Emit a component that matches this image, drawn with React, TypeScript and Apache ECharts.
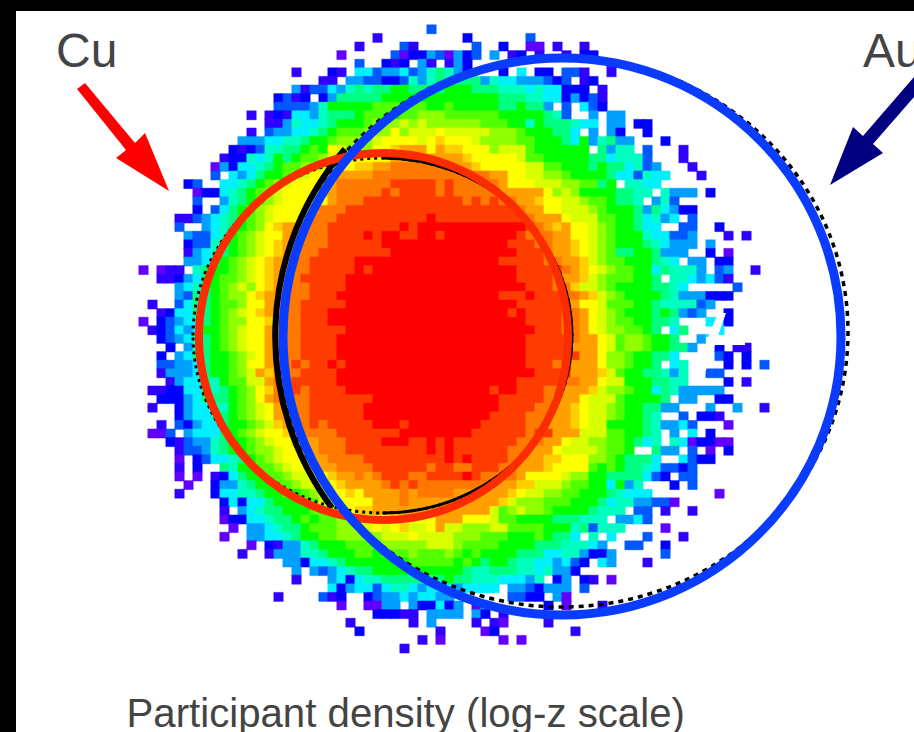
import React, { useEffect, useRef } from "react";
import * as echarts from "echarts";

const COLUMN_COUNT = 70;
const levelKeys = ".123456789abcdefghi";
const levelColors = ["#6000ff","#3000ff","#0000ff","#0058ff","#00a0ff","#00f0ff","#00ffc0","#00ff80","#00ff00","#50ff00","#90ff00","#d8ff00","#ffff00","#ffd000","#ffa000","#ff7800","#ff3c00","#ff0000"];

// each row: "startColumn:level" runs
const rowRuns = [
"32:4 33:.",
"26:2 27:. 36:3 37:. 43:4 44:.",
"24:2 25:. 29:4 30:2 31:. 37:4 38:. 40:3 41:. 43:1 45:. 46:2 47:. 49:2 50:.",
"22:1 23:. 28:4 29:1 30:3 32:5 33:4 34:1 35:5 36:3 37:4 38:. 39:5 40:. 41:2 42:3 43:. 44:2 45:. 47:2 48:. 49:3 51:.",
"24:4 25:. 27:3 28:2 29:3 30:. 31:5 32:2 33:. 34:2 35:5 36:3 37:. 52:1 53:.",
"17:2 18:. 21:3 22:2 23:. 24:6 26:4 27:5 29:6 30:4 31:5 32:7 33:8 34:7 35:5 36:3 37:. 40:3 41:. 42:6 43:. 44:3 46:. 47:4 49:2 50:. 52:2 53:.",
"20:2 22:. 23:5 25:4 27:3 29:4 30:7 31:5 32:7 33:8 34:7 35:8 38:5 39:7 40:6 42:5 45:4 46:3 47:4 48:. 49:2 50:3 51:.",
"17:5 18:2 19:4 21:6 22:5 23:7 24:8 25:7 26:8 28:9 30:8 34:9 37:8 40:7 43:6 44:7 45:6 47:3 50:. 51:2 52:.",
"15:3 16:4 17:2 18:3 19:. 20:3 21:5 22:8 27:9 40:8 43:7 45:6 47:3 48:5 49:3 50:4 51:2 52:.",
"15:4 19:5 20:7 21:9 26:a 29:9 30:a 32:9 34:a 35:9 40:8 42:9 43:8 45:5 46:. 47:4 48:. 49:6 50:4 51:3 52:.",
"12:2 13:. 14:2 15:3 16:2 17:6 19:5 20:7 21:8 24:9 25:a 28:9 29:a 31:b 34:a 40:9 45:8 46:7 47:4 48:. 50:5 51:. 52:5 54:.",
"14:2 16:5 17:7 18:6 20:7 21:8 22:9 25:a 26:b 29:c 30:b 31:c 32:b 38:a 41:9 43:7 44:9 45:8 48:7 49:6 51:. 52:5 54:. 55:3 57:.",
"12:2 13:. 14:4 15:5 17:6 19:7 20:8 21:9 22:a 25:b 28:d 29:b 30:c 33:d 34:c 39:b 42:a 43:9 46:8 48:6 49:. 50:5 51:. 52:5 53:3 54:. 56:3 57:.",
"11:5 14:6 16:7 18:8 19:9 21:a 22:b 26:c 27:d 31:c 32:d 33:e 34:d 37:c 38:b 42:a 44:9 47:8 48:6 49:9 50:5 51:7 52:8 53:5 55:. 58:3 59:.",
"10:3 11:2 12:3 13:4 14:7 16:8 18:9 19:a 20:9 21:d 22:c 23:b 26:d 28:e 29:f 32:d 33:f 34:e 36:d 39:b 40:c 43:a 44:9 50:. 51:8 52:5 53:7 55:. 56:4 57:. 60:2 61:.",
"9:2 10:3 12:7 13:6 14:7 15:9 16:8 17:9 18:a 20:b 21:c 24:d 28:f 36:e 37:d 42:c 43:a 45:9 50:8 52:6 53:7 56:4 57:. 60:2 61:.",
"8:1 9:5 10:3 11:6 13:7 14:8 15:9 16:a 18:b 20:c 22:d 24:e 26:f 28:g 35:f 37:e 38:d 43:c 45:a 47:9 50:8 51:9 52:8 54:6 55:7 56:4 57:5 58:. 61:2 62:.",
"8:4 9:. 10:6 11:5 12:6 13:8 14:9 16:a 17:b 18:c 19:d 22:f 26:g 39:f 41:d 43:c 45:b 47:a 48:9 52:8 53:6 55:4 56:7 57:6 59:. 62:2 63:.",
"5:3 6:4 7:. 9:6 11:7 12:8 13:9 14:a 15:b 16:c 17:d 20:f 22:g 28:h 33:g 34:h 35:g 40:f 41:d 44:c 47:b 49:a 51:8 52:9 53:. 54:7 56:6 58:.",
"6:1 7:3 9:6 10:7 11:8 12:9 13:a 14:b 15:c 16:d 20:f 22:g 27:h 28:g 29:h 33:g 34:h 35:g 40:f 45:d 46:b 47:c 48:b 49:9 53:8 55:7 57:. 58:7 59:5 62:. 63:3 64:.",
"6:4 7:. 9:5 10:7 11:8 12:9 13:a 14:b 15:c 16:d 21:f 22:g 25:h 36:g 37:h 38:g 39:h 40:g 42:f 44:e 45:d 47:c 49:b 50:a 52:9 53:8 55:7 56:. 57:5 58:7 59:4 60:.",
"6:3 7:. 8:4 9:6 10:8 11:9 12:a 13:b 14:c 15:d 19:f 20:g 23:h 42:g 43:f 45:d 47:c 50:b 51:a 52:9 55:8 56:5 57:8 58:6 59:5 60:3 62:.",
"4:2 6:4 7:5 8:6 9:7 10:8 11:9 12:a 13:b 14:c 15:d 18:f 19:g 22:h 32:i 33:h 43:g 44:f 47:d 48:c 51:a 53:9 55:8 56:6 57:7 58:5 59:6 60:. 61:4 62:.",
"4:4 5:. 7:5 8:6 9:7 10:8 11:9 12:a 13:b 14:d 15:e 16:f 18:g 21:h 29:i 30:h 31:i 43:h 44:g 45:f 46:e 47:f 48:d 50:c 51:b 52:a 53:9 55:8 56:6 58:. 60:4 62:. 64:3 65:.",
"5:5 6:4 8:6 9:7 10:9 11:a 12:b 13:c 14:d 16:f 18:g 21:h 25:i 26:h 27:i 29:h 31:i 33:h 34:i 42:h 43:g 46:f 48:d 50:c 51:b 52:a 53:9 56:7 57:6 59:4 61:5 62:. 65:2 66:. 67:2 68:.",
"5:3 6:4 8:7 9:8 10:9 11:a 12:b 13:c 14:d 15:e 16:f 18:g 21:h 27:i 41:h 44:g 46:f 48:e 49:d 50:c 51:b 52:a 53:9 56:8 57:7 58:6 59:5 62:. 63:5 64:.",
"5:2 6:5 7:6 8:7 9:8 10:9 11:a 12:b 13:c 14:d 15:e 16:f 18:g 20:h 28:i 42:h 45:g 46:f 48:e 49:d 50:c 51:b 52:a 53:8 55:9 57:8 58:5 61:. 63:3 64:. 65:1 66:.",
"5:5 7:6 8:7 9:9 10:a 11:b 12:c 13:d 14:e 15:f 17:g 19:h 24:i 40:h 45:g 47:f 49:e 50:c 51:b 52:a 54:9 57:8 58:7 59:6 60:. 61:5 63:. 64:3 66:.",
"0:1 1:. 2:1 3:2 5:. 6:7 7:8 8:9 10:a 11:b 12:c 13:d 14:e 15:f 17:g 19:h 24:i 25:h 26:i 42:h 47:g 48:f 49:e 50:d 51:c 52:b 53:a 55:9 57:6 58:8 59:7 62:5 63:. 64:4 65:5 66:. 68:2 69:.",
"2:2 4:3 5:5 6:6 7:8 8:9 9:a 11:b 12:c 13:d 14:e 15:f 17:g 18:h 23:i 42:h 46:g 47:f 49:e 50:c 51:b 52:a 55:9 57:8 58:. 59:7 61:6 62:5 63:6 64:4 65:2 66:.",
"4:5 5:6 6:7 7:8 8:9 9:a 10:b 11:c 12:b 13:d 14:e 15:f 17:g 19:h 23:i 43:h 46:g 48:e 49:c 51:b 52:a 53:9 57:8 59:7 60:6 61:. 66:4 67:.",
"4:5 5:4 6:8 8:9 9:a 10:b 12:d 13:e 14:f 16:g 19:h 22:i 40:h 43:i 44:h 47:g 49:f 50:e 51:c 52:b 53:a 54:9 58:8 59:7 60:5 63:3 66:.",
"1:2 2:. 4:4 5:6 6:8 8:9 9:a 11:b 12:d 14:f 16:g 18:h 23:i 42:h 47:g 48:f 49:d 51:c 52:a 55:9 57:8 58:7 62:4 63:5 64:.",
"2:2 3:3 4:6 6:8 8:9 9:a 10:b 11:c 12:d 13:e 14:f 16:g 18:h 21:i 41:h 42:i 43:h 47:g 49:f 50:d 51:c 52:b 53:a 54:9 57:8 58:9 59:8 60:5 61:4 62:5 63:. 65:3 66:.",
"0:1 1:. 2:3 3:4 4:5 5:6 7:8 8:9 9:a 10:b 12:d 14:e 15:f 16:g 18:h 21:i 43:h 47:g 49:f 50:d 51:c 52:b 53:a 55:9 57:8 59:7 60:. 63:6 65:3 66:.",
"1:2 2:3 3:4 4:6 5:5 6:6 7:9 9:a 10:b 11:c 12:d 14:f 16:g 18:h 23:i 44:h 47:g 49:f 50:d 51:c 52:b 54:a 56:9 57:8 58:. 59:6 60:8 61:. 64:6 65:.",
"2:3 3:4 4:5 5:6 6:7 7:8 8:9 9:a 10:b 11:c 12:d 14:f 16:g 18:h 22:i 43:h 48:g 49:f 51:d 52:c 53:a 54:b 56:a 57:9 59:8 60:. 62:5 63:6 64:.",
"3:3 4:. 5:5 6:7 7:8 8:9 9:a 10:b 11:c 12:d 14:f 16:g 18:h 22:i 43:h 48:f 51:d 52:c 53:a 54:b 56:a 57:9 59:8 61:5 62:. 64:3 65:. 66:2 68:.",
"2:3 3:. 4:5 5:6 6:8 8:9 10:a 11:b 12:c 13:d 14:f 15:g 18:h 22:i 43:h 49:f 51:d 52:b 54:a 55:9 57:8 59:6 60:. 64:4 65:3 66:. 67:3 68:.",
"2:4 4:5 6:6 7:8 8:9 10:a 11:b 12:d 14:f 16:g 17:h 18:g 19:h 21:i 22:h 23:i 43:h 46:g 47:h 48:f 51:d 52:b 54:a 55:9 57:8 58:. 59:6 60:7 61:. 65:3 66:. 67:3 68:. 69:4",
"2:2 3:5 6:6 7:8 8:9 10:a 11:b 12:c 13:f 14:e 15:g 18:h 22:i 44:h 48:f 51:e 52:c 53:a 54:9 56:8 58:7 59:5 60:7 61:. 63:4 65:.",
"3:2 4:5 5:6 7:8 8:7 9:9 10:a 12:c 14:f 15:g 17:h 22:i 42:h 47:g 49:f 51:d 52:c 54:9 57:8 59:7 61:. 65:3 66:. 67:2 68:.",
"1:2 3:3 5:6 7:8 8:7 9:8 10:9 11:a 12:b 13:d 14:e 15:g 17:h 18:g 19:h 23:i 39:h 40:i 42:h 45:g 47:f 50:e 51:c 52:b 54:a 55:9 57:6 58:8 59:7 60:5 65:.",
"2:3 5:5 6:6 7:8 9:8 10:9 11:a 12:b 13:d 14:f 15:g 19:h 26:i 40:h 45:g 46:f 49:d 50:c 53:a 54:9 58:8 59:. 60:5 62:. 64:3 66:.",
"1:2 2:. 4:3 5:5 6:6 8:7 10:9 11:a 12:b 13:c 14:d 15:f 17:g 19:h 25:i 40:h 44:g 46:f 48:e 49:d 50:c 52:b 53:a 54:9 56:8 58:5 60:. 63:5 64:. 66:5 67:. 69:2",
"4:3 5:5 6:6 8:7 9:8 10:9 11:a 12:b 13:c 14:d 15:f 17:g 19:h 25:i 39:h 43:g 46:f 48:e 49:d 50:c 52:b 53:a 54:9 56:8 57:7 58:. 60:4 61:. 62:3 64:2 65:.",
"2:2 3:. 4:4 5:3 6:5 7:6 9:8 10:9 12:a 13:b 14:c 15:e 16:f 17:g 19:h 20:g 21:h 26:i 29:h 30:i 38:h 43:g 45:f 48:e 49:d 50:c 52:9 56:8 57:7 58:5 60:6 61:4 62:. 65:1 66:.",
"1:1 3:4 4:. 5:5 6:6 9:8 10:9 11:a 12:b 13:c 14:d 16:e 17:f 18:g 22:h 29:i 37:h 43:g 44:h 46:f 49:c 52:a 54:9 56:8 57:7 58:. 59:5 60:. 61:6 62:. 63:3 64:.",
"3:3 4:2 5:4 6:5 8:7 9:8 10:9 12:a 13:b 14:c 15:d 17:e 18:f 20:g 23:h 27:i 30:h 32:i 33:h 34:i 35:h 42:g 45:f 47:d 48:c 50:b 52:a 54:9 55:8 56:6 57:7 58:. 59:7 60:6 61:1 62:3 64:1 66:.",
"4:2 5:4 7:5 8:7 9:8 10:9 12:a 13:b 15:c 16:d 18:e 19:f 20:g 23:h 32:i 33:h 34:i 35:h 41:g 43:f 46:d 47:c 51:b 52:a 54:9 55:. 57:8 58:5 60:. 61:4 62:. 63:1 64:. 65:3 66:.",
"4:1 5:. 6:3 7:4 8:6 10:7 11:8 12:9 13:a 14:b 15:c 16:d 18:e 19:f 21:g 25:h 34:i 35:h 36:i 37:h 41:g 42:f 45:e 47:d 50:b 52:a 53:9 54:8 57:6 58:. 60:6 61:4 62:3 64:.",
"4:2 5:. 6:3 7:. 9:8 10:7 11:9 13:a 15:b 16:c 17:d 19:e 20:f 22:g 26:h 32:g 33:h 35:g 37:h 40:g 42:f 45:e 46:d 50:a 51:9 52:a 53:9 54:8 56:7 57:6 58:4 60:3 61:4 62:.",
"4:1 5:. 6:1 7:. 8:2 9:3 10:6 11:8 12:9 14:a 16:b 17:c 19:d 21:e 22:f 24:g 25:f 26:g 27:h 30:g 32:h 36:i 37:h 38:g 42:f 43:d 47:c 48:b 50:9 52:8 56:6 57:4 58:3 59:. 60:4 62:.",
"5:1 6:. 8:3 9:5 11:7 12:8 13:9 15:a 17:b 18:c 20:d 22:e 23:f 27:g 28:h 29:g 30:h 31:g 39:f 42:e 44:c 47:b 48:a 50:9 52:6 53:9 54:5 55:7 56:. 59:3 60:. 61:4 62:.",
"4:2 5:. 8:3 9:6 11:7 13:8 14:9 16:a 17:9 18:a 19:b 20:c 21:d 23:e 24:d 25:f 29:g 30:f 31:g 35:f 41:e 42:d 43:c 45:b 47:a 49:9 52:8 53:7 54:6 57:. 64:1 65:.",
"9:3 10:6 11:3 12:6 14:8 15:9 18:a 20:c 22:d 26:f 29:g 30:f 40:e 41:c 42:b 45:a 48:9 51:8 52:6 53:7 55:5 57:4 59:1 60:.",
"9:2 10:. 11:5 12:6 13:7 14:8 16:9 19:a 21:b 22:d 24:e 26:f 39:c 40:a 41:b 42:c 43:b 45:a 46:9 50:8 51:7 54:. 55:4 57:. 58:2 59:. 61:2 62:.",
"9:1 10:3 12:6 14:7 15:8 17:9 18:a 19:9 20:a 22:b 24:c 26:d 33:f 36:d 39:c 40:a 42:9 46:8 49:7 52:. 53:5 55:6 56:4 57:.",
"10:1 11:. 12:5 14:6 15:7 16:8 18:9 19:a 22:b 24:c 26:d 27:c 28:d 29:e 30:c 32:d 33:f 34:c 36:b 39:c 41:a 45:9 48:7 49:8 50:4 51:7 54:. 58:1 59:.",
"9:1 10:. 12:5 14:6 16:7 17:8 18:9 20:a 22:b 27:c 30:d 31:c 35:b 38:a 41:9 44:a 45:9 46:8 48:6 49:. 50:7 51:. 52:6 53:. 56:4 57:. 60:2 61:.",
"12:1 13:. 14:3 15:2 16:5 18:7 19:8 20:9 23:a 27:b 32:c 35:b 36:a 40:9 44:8 47:7 50:6 51:5 52:. 54:4 56:. 58:3 59:.",
"11:2 12:. 14:2 15:5 18:7 20:8 21:9 24:a 26:9 27:a 30:b 31:a 34:b 35:a 36:9 37:a 38:9 42:8 45:6 47:7 49:5 50:3 52:5 53:. 58:4 59:.",
"16:5 18:3 19:6 21:7 22:8 23:9 30:a 35:9 36:a 37:9 38:8 39:9 41:8 42:7 44:6 46:5 47:6 48:4 49:3 50:. 51:6 52:5 53:. 56:2 57:.",
"17:5 18:. 19:5 20:4 21:5 22:6 23:7 24:8 26:9 36:8 37:7 39:8 42:7 44:6 45:7 46:5 48:3 49:.",
"17:2 18:. 21:5 22:6 23:3 24:6 25:7 27:8 34:9 35:8 37:7 40:6 43:5 44:7 45:. 46:3 47:5 48:. 49:3 50:2 51:. 52:1 53:.",
"21:6 22:3 23:5 24:6 26:4 27:6 28:7 30:6 31:5 32:6 35:5 36:6 40:. 41:5 43:4 44:3 45:5 48:. 49:4 50:.",
"15:2 16:. 20:4 21:2 22:3 23:. 25:3 26:4 27:5 29:6 30:5 31:6 33:5 35:. 41:4 43:3 45:. 46:5 47:1 48:.",
"22:1 23:. 25:1 27:5 29:. 30:5 31:3 33:6 34:3 35:5 36:. 37:1 38:5 39:. 45:3 46:. 47:1 48:. 51:2 52:.",
"26:3 29:2 31:. 32:5 36:. 37:5 38:3 39:. 40:2 41:.",
"23:2 24:. 30:2 31:. 32:5 33:. 37:2 38:. 39:2 40:1 41:. 45:2 46:.",
"24:3 25:. 33:2 34:. 38:1 39:3 40:. 48:2 49:.",
"31:2 32:. 33:1 34:. 40:1 41:. 42:1 43:.",
"29:2 30:.",
];

const columns = Array.from({ length: COLUMN_COUNT }, (_, i) => String(i));
const rows = rowRuns.map((_, i) => String(i));

function cellsFromRuns() {
  const out: any[] = [];
  rowRuns.forEach((line, r) => {
    const runs = line.split(" ").map((t) => t.split(":"));
    runs.forEach(([start, key], i) => {
      const level = levelKeys.indexOf(key);
      const from = Number(start);
      const to = i + 1 < runs.length ? Number(runs[i + 1][0]) : from + 1;
      if (level > 0) {
        const color = levelColors[level - 1];
        for (let c = from; c < to; c++) {
          out.push({ value: [c, r, level], itemStyle: { borderColor: color, borderWidth: 0.4 } });
        }
      }
    });
  });
  return out;
}

const cuLabel = "Cu";
const auLabel = "Au";
const captionLabel = "Participant density (log-z scale)";

echarts.graphic.registerShape("cuBlackRight", echarts.graphic.extendPath("M 382.5 158 A 189.5 177.5 0 0 1 382.5 513", {}));
echarts.graphic.registerShape("auBlackLeft", echarts.graphic.extendPath("M 345 149 A 287 287 0 0 0 332 508", {}));

export default function App() {
  const ref = useRef<HTMLDivElement>(null);
  useEffect(() => {
    document.body.style.margin = "0";
    const chart = echarts.init(ref.current!, undefined, { renderer: "svg" });
    const textFont = { fontFamily: "Liberation Sans", fill: "#444444", verticalAlign: "bottom" };
    const elements: any[] = [
      { type: "polygon", shape: { points: [[718,313],[726,313],[705,373],[694,373]] }, style: { fill: "#fff" } },
      { type: "polygon", shape: { points: [[706,337],[745,337],[745,345],[706,345]] }, style: { fill: "#fff" } },
      { type: "polygon", shape: { points: [[700,350],[712,350],[712,360],[700,360]] }, style: { fill: "#fff" } },
      { type: "ellipse", shape: { cx: 562, cy: 332, rx: 286, ry: 275 }, style: { fill: "none", stroke: "#000", lineWidth: 3.5, lineDash: [5, 5] } },
      { type: "auBlackLeft", style: { fill: "none", stroke: "#000", lineWidth: 6 } },
      { type: "ellipse", shape: { cx: 382.5, cy: 335.5, rx: 189.5, ry: 177.5 }, style: { fill: "none", stroke: "#000", lineWidth: 3, lineDash: [3, 4] } },
      { type: "cuBlackRight", style: { fill: "none", stroke: "#000", lineWidth: 3 } },
      { type: "ellipse", shape: { cx: 383.5, cy: 336.5, rx: 184.5, ry: 183.5 }, style: { fill: "none", stroke: "#fa2c00", lineWidth: 8 } },
      { type: "ellipse", shape: { cx: 562, cy: 336.5, rx: 279, ry: 278.5 }, style: { fill: "none", stroke: "#0a3cff", lineWidth: 9 } },
      { type: "polygon", shape: { points: [[85,83],[135,143],[145,133],[169,191],[116,158],[126,150],[77,89]] }, style: { fill: "#ff0000" } },
      { type: "polygon", shape: { points: [[914,77],[863,136],[853,127],[830,185],[883,153],[873,144],[914,97]] }, style: { fill: "#000080" } },
      { type: "rect", shape: { x: 0, y: 0, width: 16, height: 732 }, style: { fill: "#000" } },
      { type: "rect", shape: { x: 0, y: 0, width: 914, height: 11 }, style: { fill: "#000" } },
      { type: "text", x: 56, y: 74, style: { ...textFont, text: cuLabel, fontSize: 48 } },
      { type: "text", x: 863, y: 74, style: { ...textFont, text: auLabel, fontSize: 48 } },
      { type: "text", x: 126.5, y: 733, style: { ...textFont, text: captionLabel, fontSize: 40.2 } },
    ];
    chart.setOption({
      animation: false,
      backgroundColor: "#ffffff",
      grid: { left: 139, top: 25, width: 630, height: 627.8, containLabel: false },
      xAxis: { type: "category", data: columns, show: false },
      yAxis: { type: "category", data: rows, inverse: true, show: false },
      visualMap: { show: false, type: "continuous", min: 1, max: 18, dimension: 2, inRange: { color: levelColors } },
      series: [{ type: "heatmap", data: cellsFromRuns(), progressive: 0, z: 1 }],
      graphic: { z: 100, elements: elements.map((e) => ({ ...e, silent: true, z: 100 })) },
    });
    return () => chart.dispose();
  }, []);
  return <div ref={ref} style={{ position: "absolute", left: 0, top: 0, width: 914, height: 732, overflow: "hidden" }} />;
}
